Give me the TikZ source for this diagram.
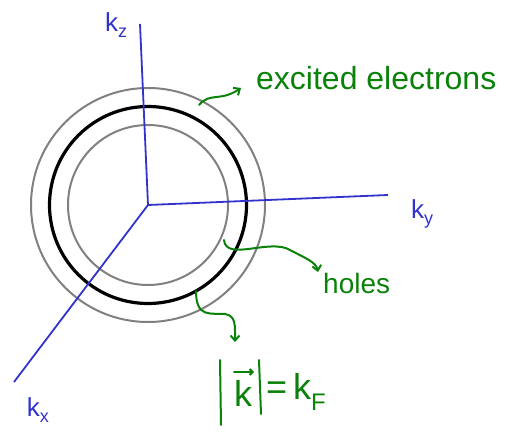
\documentclass[tikz,border=0pt]{standalone}
\usepackage{fontspec}
\setmainfont{Liberation Sans}
\usetikzlibrary{arrows.meta}
\definecolor{axblue}{RGB}{50,50,205}
\definecolor{hgreen}{RGB}{10,130,10}
\definecolor{cgray}{RGB}{128,128,128}
\newcommand{\sbx}[1]{\raisebox{-0.45ex}{\fontsize{18}{18}\selectfont #1}}
\begin{document}
\begin{tikzpicture}[x=1pt,y=-1pt,
  axis/.style={draw=axblue,line width=1.8pt},
  shell/.style={draw=cgray,line width=2pt},
  fermi/.style={draw=black,line width=3.2pt},
  note/.style={draw=hgreen,line width=2pt,line cap=round,-{Straight Barb[length=5pt,width=9pt]}},
  gline/.style={draw=hgreen,line width=2pt,line cap=round},
  lab/.style={text=axblue,font=\fontsize{26}{28}\selectfont,inner sep=0pt},
  glab/.style={text=hgreen,font=\fontsize{32}{34}\selectfont,inner sep=0pt}]
\useasboundingbox (0,0) rectangle (530,438);
\coordinate (O) at (148,205);
\draw[shell] (O) circle[radius=117];
\draw[fermi] (O) circle[radius=98.5];
\draw[shell] (O) circle[radius=80];
\coordinate (zt) at (140,24);
\coordinate (yt) at (388,195);
\coordinate (xt) at (14,382);
\draw[axis] (O) -- (zt);
\draw[axis] (O) -- (yt);
\draw[axis] (O) -- (xt);
\node[lab] (kz) at (116,25) {k\sbx{z}};
\node[lab] (ky) at (422,214) {k\sbx{y}};
\node[lab] (kx) at (38,410) {k\sbx{x}};
\node[glab,anchor=west] (ee) at (256,78) {excited electrons};
\node[glab,anchor=west,font=\fontsize{28}{30}\selectfont] (ho) at (323,283) {holes};
% |k| = k_F
\coordinate (b1t) at (220,360);
\coordinate (b1b) at (221,425);
\draw[gline] (b1t) -- (b1b);
\node[text=hgreen,font=\fontsize{36}{38}\selectfont,inner sep=0pt] (kv) at (243,393) {k};
\coordinate (a0) at (234,372);
\coordinate (a1) at (254,372);
\draw[gline,-{Straight Barb[length=3pt,width=6pt]}] (a0) -- (a1);
\coordinate (b2t) at (259,360);
\coordinate (b2b) at (261,414);
\draw[gline] (b2t) -- (b2b);
\node[text=hgreen,font=\fontsize{36}{38}\selectfont,inner sep=0pt,anchor=west] (kfr) at (266,392) {=\,k\raisebox{-0.6ex}{\fontsize{24}{24}\selectfont F}};
\coordinate (e0) at (199,105);
\coordinate (e1) at (241,88);
\draw[note] (e0) .. controls (210,92) and (220,102) .. (e1);
\coordinate (h0) at (224,240);
\coordinate (h1) at (318,272);
\draw[note] (h0) .. controls (226,262) and (270,238) .. (290,250) .. controls (305,258) and (316,262) .. (h1);
\coordinate (f0) at (196,291);
\coordinate (f1) at (235,342);
\draw[note] (f0) .. controls (196,318) and (210,313) .. (225,314) .. controls (236,316) and (235,325) .. (f1);
\end{tikzpicture}
\end{document}
